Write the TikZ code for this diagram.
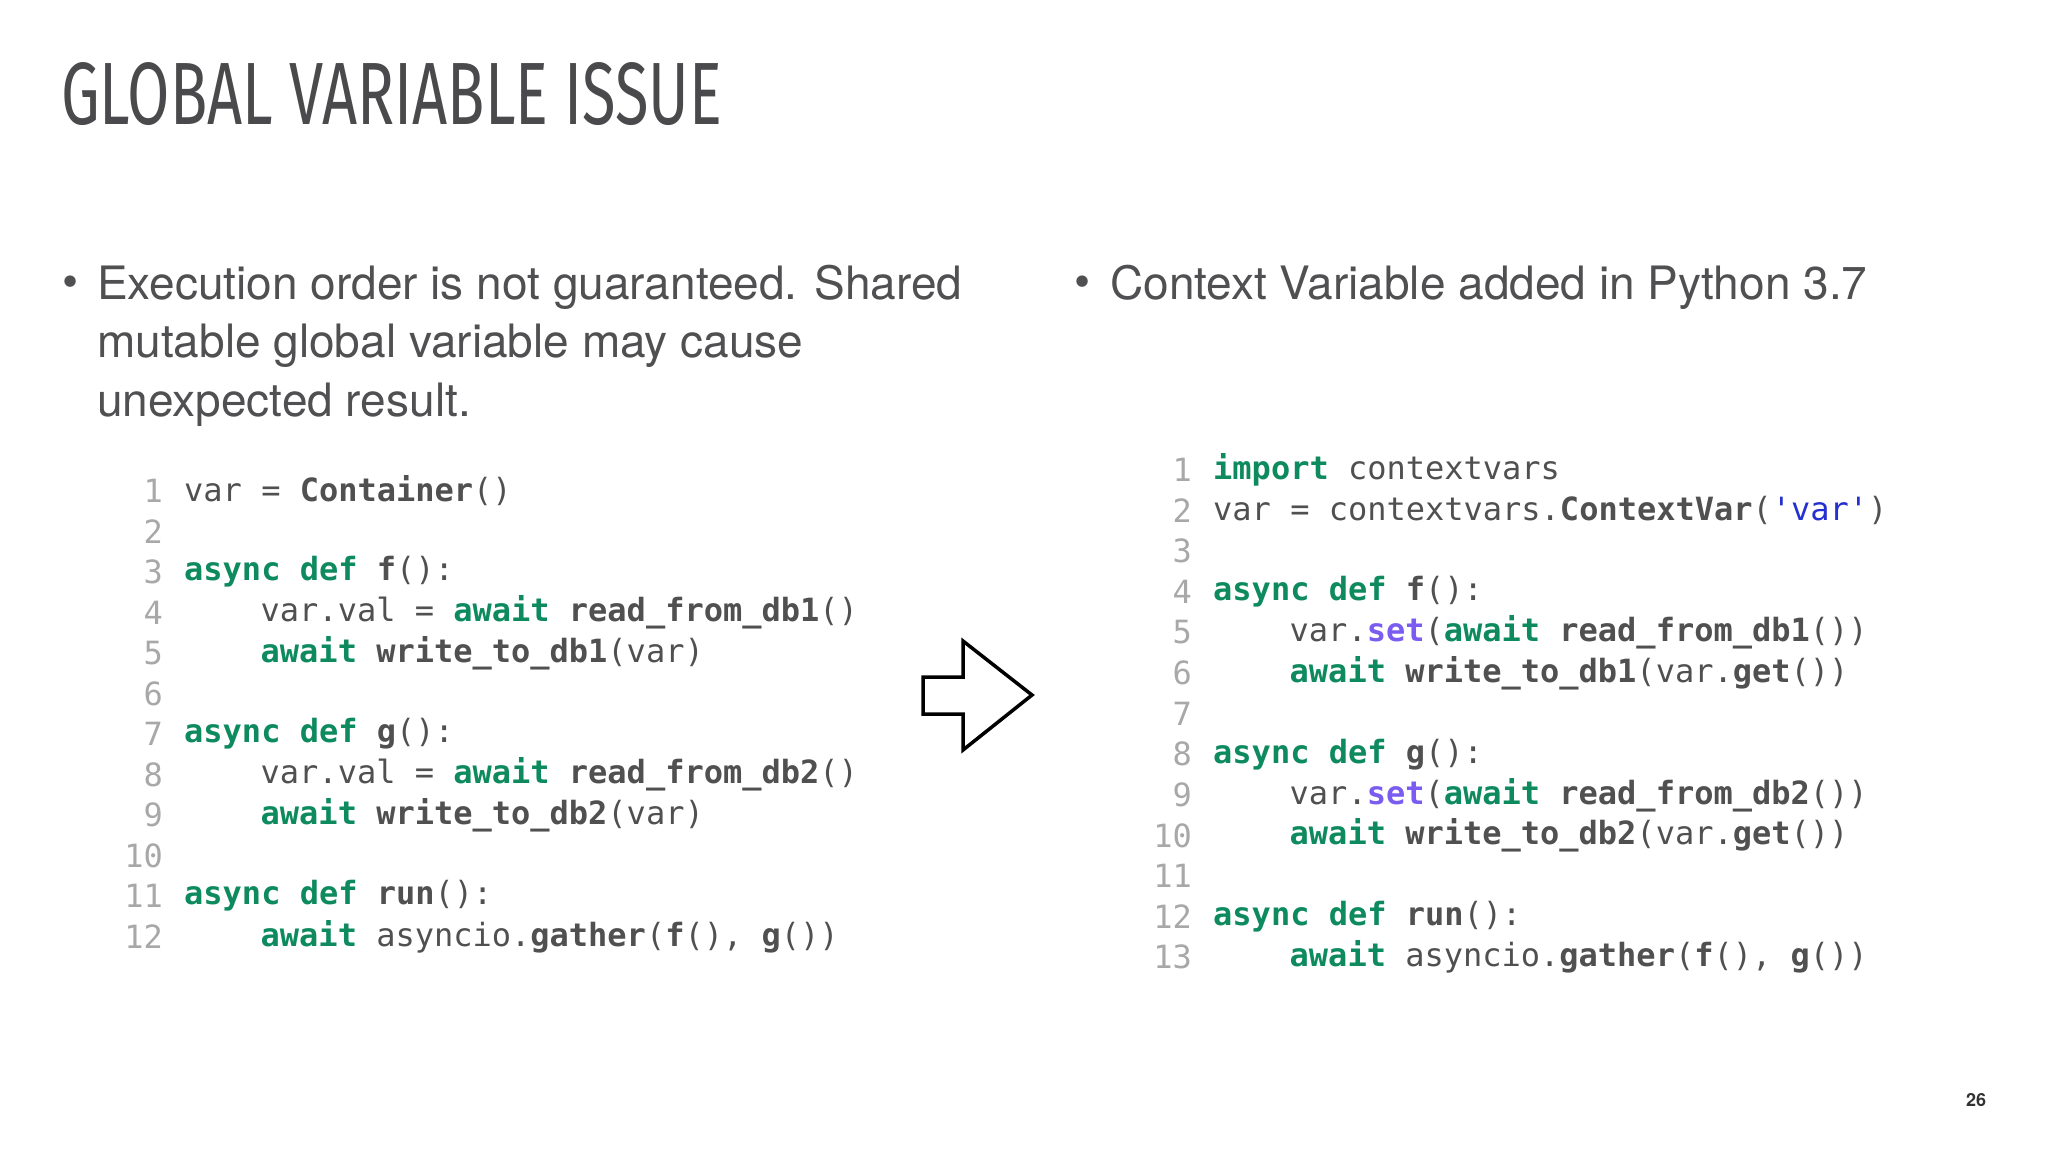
\documentclass[tikz,border=0pt]{standalone}
\usepackage{fontspec}
\setmainfont{TeX Gyre Heros}
\newfontfamily\codefont{DejaVu Sans Mono}
\newfontfamily\titlefont{Fira Sans}
\definecolor{titlec}{HTML}{4A4A4C}
\definecolor{bodyc}{HTML}{505052}
\definecolor{codec}{HTML}{505050}
\definecolor{kgreen}{HTML}{0E8A5F}
\definecolor{kpurple}{HTML}{7B5CF0}
\definecolor{kblue}{HTML}{2530D0}
\definecolor{numc}{HTML}{A8A8A8}
\newcommand\kw[1]{\textcolor{kgreen}{\bfseries #1}}
\newcommand\fn[1]{{\bfseries #1}}
\tikzset{
 code/.style={anchor=west,inner sep=0,font=\codefont\fontsize{32}{32}\selectfont,text=codec},
 lnum/.style={anchor=east,inner sep=0,font=\codefont\fontsize{32}{32}\selectfont,text=numc},
 body/.style={anchor=west,inner sep=0,font=\fontsize{46}{46}\selectfont,text=bodyc},
}
\begin{document}
\begin{tikzpicture}[x=1pt,y=-1pt]
\useasboundingbox[fill=white] (0,0) rectangle (2048,1152);
\node[anchor=west,inner sep=0,text=titlec] (title) at (61,94) {\resizebox{661pt}{62pt}{\titlefont\fontsize{90}{90}\selectfont GLOBAL VARIABLE ISSUE}};
% bullets
\node[body] (b1) at (62,287) {•};
\node[body] (t1) at (97,287) {Execution order is not guaranteed. Shared};
\node[body] (t2) at (97,346) {mutable global variable may cause};
\node[body] (t3) at (97,405) {unexpected result.};
\node[body] (b2) at (1074,287) {•};
\node[body] (t4) at (1110,287) {Context Variable added in Python 3.7};
% left code
\def\ls{40.5}
\foreach \i in {1,...,12} {\node[lnum] (ln\i) at (163,{491+(\i-1)*\ls}) {\i};}
\def\LX{184}\def\LI{260.5}
\node[code] (l1) at (\LX,491) {var = \fn{Container}()};
\node[code] (l3) at (\LX,{491+2*\ls}) {\kw{async def} \fn{f}():};
\node[code] (l4) at (\LI,{491+3*\ls}) {var.val = \kw{await} \fn{read\_from\_db1}()};
\node[code] (l5) at (\LI,{491+4*\ls}) {\kw{await} \fn{write\_to\_db1}(var)};
\node[code] (l7) at (\LX,{491+6*\ls}) {\kw{async def} \fn{g}():};
\node[code] (l8) at (\LI,{491+7*\ls}) {var.val = \kw{await} \fn{read\_from\_db2}()};
\node[code] (l9) at (\LI,{491+8*\ls}) {\kw{await} \fn{write\_to\_db2}(var)};
\node[code] (l11) at (\LX,{491+10*\ls}) {\kw{async def} \fn{run}():};
\node[code] (l12) at (\LI,{491+11*\ls}) {\kw{await} asyncio.\fn{gather}(\fn{f}(), \fn{g}())};
% right code
\def\rs{40.6}
\foreach \i in {1,...,13} {\node[lnum] (rn\i) at (1192,{470+(\i-1)*\rs}) {\i};}
\def\RX{1213}\def\RI{1289.5}
\node[code] (r1) at (\RX,470) {\kw{import} contextvars};
\node[code] (r2) at (\RX,{470+\rs}) {var = contextvars.\fn{ContextVar}(\textcolor{kblue}{'var'})};
\node[code] (r4) at (\RX,{470+3*\rs}) {\kw{async def} \fn{f}():};
\node[code] (r5) at (\RI,{470+4*\rs}) {var.\textcolor{kpurple}{\bfseries set}(\kw{await} \fn{read\_from\_db1}())};
\node[code] (r6) at (\RI,{470+5*\rs}) {\kw{await} \fn{write\_to\_db1}(var.\fn{get}())};
\node[code] (r8) at (\RX,{470+7*\rs}) {\kw{async def} \fn{g}():};
\node[code] (r9) at (\RI,{470+8*\rs}) {var.\textcolor{kpurple}{\bfseries set}(\kw{await} \fn{read\_from\_db2}())};
\node[code] (r10) at (\RI,{470+9*\rs}) {\kw{await} \fn{write\_to\_db2}(var.\fn{get}())};
\node[code] (r12) at (\RX,{470+11*\rs}) {\kw{async def} \fn{run}():};
\node[code] (r13) at (\RI,{470+12*\rs}) {\kw{await} asyncio.\fn{gather}(\fn{f}(), \fn{g}())};
% arrow
\draw[line width=3.5pt,line join=miter,black] (923,677) -- (963,677) -- (963,641) -- (1032,695) -- (963,750) -- (963,714) -- (923,714) -- cycle;
\node[inner sep=0,font=\bfseries\fontsize{18}{18}\selectfont,text=black!80] (pg) at (1976,1100) {26};
\end{tikzpicture}
\end{document}
